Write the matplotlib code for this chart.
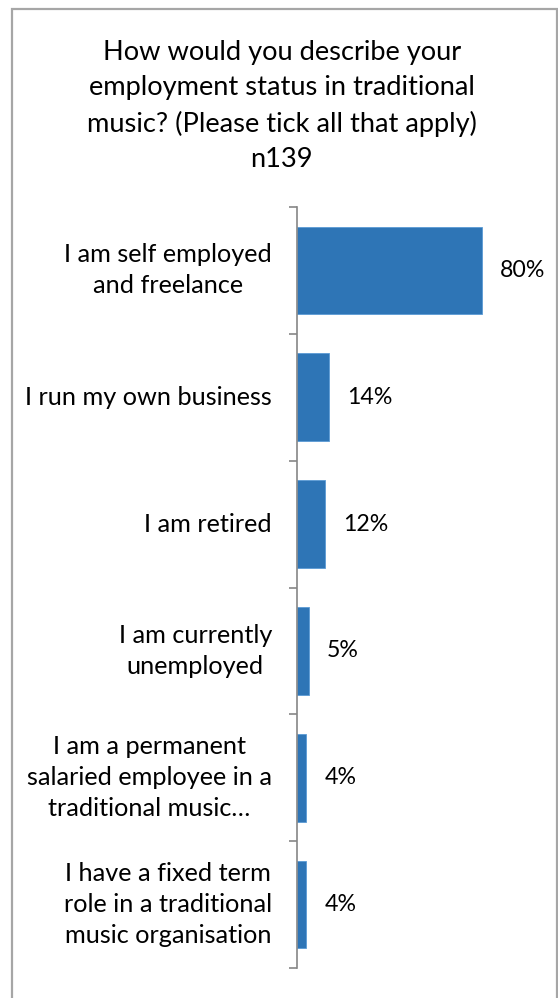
import matplotlib.pyplot as plt
from matplotlib.patches import Rectangle

# survey responses, top to bottom as shown
categories = [
    'I am self employed\nand freelance',
    'I run my own business',
    'I am retired',
    'I am currently\nunemployed',
    'I am a permanent\nsalaried employee in a\ntraditional music\u2026',
    'I have a fixed term\nrole in a traditional\nmusic organisation',
]
percent = [80, 14, 12, 5, 4, 4]
title = ('How would you describe your\nemployment status in traditional\n'
         'music? (Please tick all that apply)\nn139')

W, H = 558, 998
plt.rcParams['font.family'] = ['Lato', 'DejaVu Sans']

fig = plt.figure(figsize=(W / 100, H / 100), dpi=100)

# grey frame round the whole chart (bottom edge sits off the canvas)
fig.patches.append(Rectangle((12 / W, -0.01), (557 - 12) / W, 1.01 - 9 / H,
                             transform=fig.transFigure, fill=False,
                             edgecolor='#a6a6a6', linewidth=1.6))

fig.text(0.505, 1 - 106 / H, title, ha='center', va='center',
         fontsize=19.6, linespacing=1.5, color='#000000')

# plot area in pixels: axis at x=297, ticks from y=207 to y=968
ax = fig.add_axes([297 / W, 1 - 968 / H, 231 / W, (968 - 207) / H])

y = list(range(len(categories)))
ax.barh(y, percent, height=0.69, color='#2e75b6', edgecolor='#5b9bd5',
        linewidth=0.6)
ax.set_xlim(0, 100)
ax.set_ylim(len(categories) - 0.5, -0.5)

for yi, v in zip(y, percent):
    ax.annotate(f'{v}%', xy=(v, yi), xytext=(13, 0), textcoords='offset points',
                ha='left', va='center', fontsize=16.7, color='#000000')

for yi, lab in zip(y, categories):
    ax.annotate(lab, xy=(0, yi), xycoords=('axes fraction', 'data'),
                xytext=(-18, 0), textcoords='offset points', ha='right',
                va='center', multialignment='center', fontsize=18.2,
                linespacing=1.42, color='#000000')

# tick marks between categories, no labels
ax.set_yticks([i - 0.5 for i in range(len(categories) + 1)])
ax.set_yticklabels([])
ax.tick_params(axis='y', direction='out', length=6, width=1.2, color='#868686')
ax.set_xticks([])
for side in ['top', 'right', 'bottom']:
    ax.spines[side].set_visible(False)
ax.spines['left'].set_color('#868686')
ax.spines['left'].set_linewidth(1.2)

plt.savefig('out.png', dpi=100)
